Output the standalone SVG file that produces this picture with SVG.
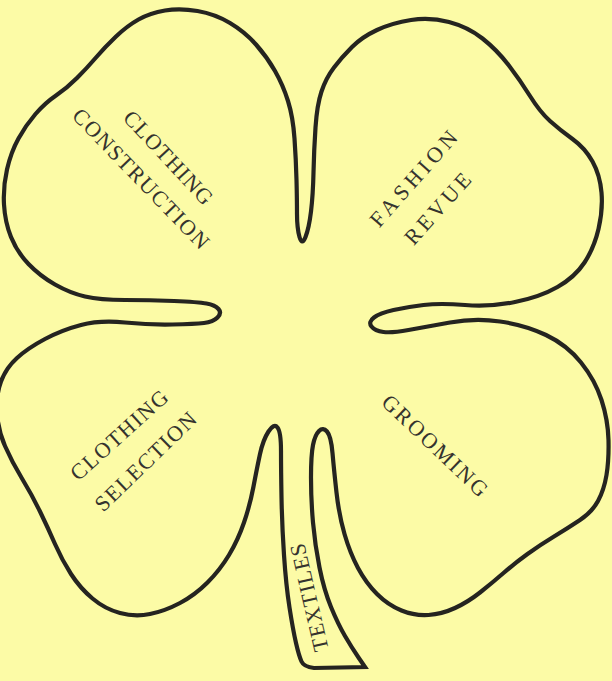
<svg xmlns="http://www.w3.org/2000/svg" width="612" height="681" viewBox="0 0 612 681">
<style>
.outline{fill:none;stroke:#252420;stroke-width:4.2;stroke-linejoin:miter;stroke-linecap:round}
.lbl{font-family:"Liberation Serif","Times New Roman",serif;font-size:22px;fill:#35332e;text-anchor:middle}
</style>
<rect width="612" height="681" fill="#fcfba6"/>
<g id="connectors"></g>
<g id="clover-outline">
<path class="outline" d="M365,667 L358.5,657.5 Q352,648 345,636 Q338,624 331,607 Q324,590 319.5,567.5 Q315,545 313,522.5 Q311,500 311,477.5 Q311,455 313,445 Q315,435 319,431 Q323,427 327,431.5 Q331,436 332.5,453 Q334,470 336.5,492.5 Q339,515 344.5,534 Q350,553 358,568 Q366,583 377,594 Q388,605 401.5,610.5 Q415,616 428.5,615 Q442,614 455,608 Q468,602 480,592.5 Q492,583 503.5,573 Q515,563 527.5,554 Q540,545 554,536.5 Q568,528 580,520 Q592,512 598,501 Q604,490 606.5,475 Q609,460 608.5,440 Q608,420 601.5,400 Q595,380 581,362.5 Q567,345 546,335 Q525,325 500,321.5 Q475,318 450,322.5 Q425,327 408.5,330 Q392,333 383.5,332 Q375,331 371.5,326.5 Q368,322 374,317.5 Q380,313 393.5,310 Q407,307 423.5,305 Q440,303 465,305 Q490,307 515,302 Q540,297 557.5,287 Q575,277 584.5,262.5 Q594,248 598.5,229 Q603,210 601.5,192.5 Q600,175 592.5,161.5 Q585,148 572.5,139 Q560,130 550,121 Q540,112 530,96 Q520,80 508.5,65 Q497,50 482.5,38.5 Q468,27 449,22 Q430,17 411,20 Q392,23 377,30 Q362,37 352,47 Q342,57 334,67.5 Q326,78 321.5,91.5 Q317,105 315.5,127.5 Q314,150 313.5,172.5 Q313,195 311,211.5 Q309,228 305.5,237 Q302,246 299.5,237 Q297,228 297,214 Q297,200 296.5,180 Q296,160 294.5,138.5 Q293,117 288,101 Q283,85 275,71 Q267,57 256,44.5 Q245,32 230,23 Q215,14 197.5,11 Q180,8 165,10.5 Q150,13 138.5,19.5 Q127,26 116,36.5 Q105,47 96,57.5 Q87,68 77,78 Q67,88 56,95.5 Q45,103 35.5,114 Q26,125 18.5,138.5 Q11,152 7,169.5 Q3,187 4,204.5 Q5,222 11,237 Q17,252 28.5,264 Q40,276 55,284.5 Q70,293 85,296.5 Q100,300 125,300 Q150,300 174,301 Q198,302 206.5,303.5 Q215,305 218.5,309 Q222,313 217.5,317.5 Q213,322 204,323 Q195,324 172.5,324.5 Q150,325 125,322.5 Q100,320 81,325 Q62,330 45,339 Q28,348 17,358 Q6,368 1,381.5 Q-4,395 -3,412.5 Q-2,430 5,446 Q12,462 22,478.5 Q32,495 40,511.5 Q48,528 55,544 Q62,560 71,574 Q80,588 92.5,598.5 Q105,609 120,613 Q135,617 150,614 Q165,611 180,603 Q195,595 207.5,582.5 Q220,570 229,555 Q238,540 244,522.5 Q250,505 253.5,486.5 Q257,468 260,454 Q263,440 268.5,431.5 Q274,423 277.5,427.5 Q281,432 281,451 Q281,470 281.5,497.5 Q282,525 284,555 Q286,585 289.5,607.5 Q293,630 296,643 Q299,656 301.5,661.5 Q304,667 314,668 L365,667 Z"/>
</g>
<g id="leaf-clothing-construction">
<text class="lbl" transform="translate(168.5,157.5) rotate(47)" y="7.5" textLength="120" lengthAdjust="spacing">CLOTHING</text>
<text class="lbl" transform="translate(141,178.5) rotate(46)" y="7.5" textLength="186" lengthAdjust="spacing">CONSTRUCTION</text>
</g>
<g id="leaf-fashion-revue">
<text class="lbl" transform="translate(413.5,178.5) rotate(-48.5)" y="7.5" textLength="120" lengthAdjust="spacing">FASHION</text>
<text class="lbl" transform="translate(437.5,208.5) rotate(-48)" y="7.5" textLength="88" lengthAdjust="spacing">REVUE</text>
</g>
<g id="leaf-clothing-selection">
<text class="lbl" transform="translate(119,435) rotate(-42)" y="7.5" textLength="123" lengthAdjust="spacing">CLOTHING</text>
<text class="lbl" transform="translate(145.5,461.5) rotate(-44)" y="7.5" textLength="132" lengthAdjust="spacing">SELECTION</text>
</g>
<g id="leaf-grooming">
<text class="lbl" transform="translate(435,445.5) rotate(43.5)" y="7.5" textLength="137" lengthAdjust="spacing">GROOMING</text>
</g>
<g id="stem-textiles">
<text class="lbl" transform="translate(309,597.5) rotate(-103)" y="7.5" textLength="110" lengthAdjust="spacing">TEXTILES</text>
</g>
</svg>
